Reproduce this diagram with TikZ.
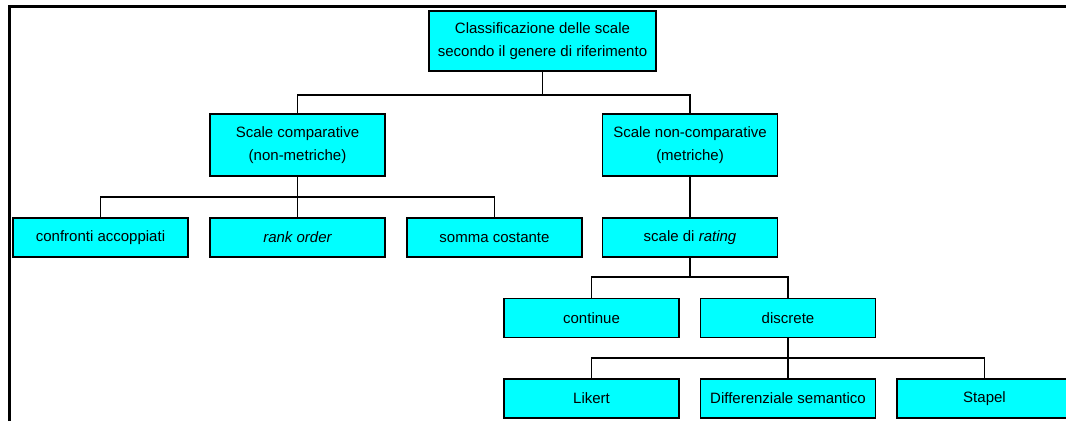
\documentclass[tikz,border=0pt]{standalone}
\usepackage{fontspec}
\setmainfont{Liberation Sans}
\begin{document}
\begin{tikzpicture}[x=1pt,y=-1pt,
  box/.style={draw=black,line width=1.8pt,fill=cyanbox,minimum width=175pt,minimum height=39pt,
    inner sep=0pt,align=center,font=\fontsize{15}{23.5}\selectfont},
  wide/.style={box,minimum width=227pt,minimum height=60pt},
  tall/.style={box,minimum height=62pt},
  link/.style={draw=black,line width=1.8pt}]
\definecolor{cyanbox}{RGB}{0,255,255}
\clip (0,0) rectangle (1066,421);
\fill[white] (0,0) rectangle (1066,421);
% frame
\draw[line width=2.8pt] (9.5,421) -- (9.5,6.8) -- (1066,6.8);
% nodes
\node[wide] (root) at (542.5,41) {Classificazione delle scale\\secondo il genere di riferimento};
\node[tall] (comp) at (297.5,145) {Scale comparative\\(non-metriche)};
\node[tall] (ncomp) at (690,145) {Scale non-comparative\\(metriche)};
\node[box] (conf) at (100.5,237.5) {confronti accoppiati};
\node[box] (rank) at (297.5,237.5) {\itshape rank order};
\node[box] (somma) at (494.5,237.5) {somma costante};
\node[box] (rating) at (690,237.5) {scale di \textit{rating}};
\node[box] (cont) at (591.5,318) {continue};
\node[box] (disc) at (788,318) {discrete};
\node[box] (lik) at (591.5,398.5) {Likert};
\node[box] (diff) at (788,398.5) {Differenziale semantico};
\node[box] (stap) at (984.5,398.5) {Stapel};
% connectors
\draw[link] (root.south) -- (root.south |- 0,95) -| (comp.north);
\draw[link] (root.south |- 0,95) -| (ncomp.north);
\draw[link] (comp.south) -- (rank.north);
\draw[link] (conf.north) |- (comp.south |- 0,197) -| (somma.north);
\draw[link] (ncomp.south) -- (rating.north);
\draw[link] (rating.south) -- (rating.south |- 0,277) -| (cont.north);
\draw[link] (rating.south |- 0,277) -| (disc.north);
\draw[link] (disc.south) -- (diff.north);
\draw[link] (lik.north) |- (disc.south |- 0,358) -| (stap.north);
\end{tikzpicture}
\end{document}
